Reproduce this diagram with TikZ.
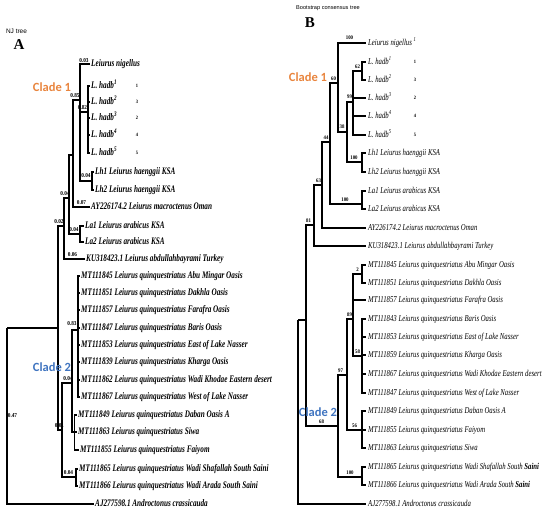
\documentclass[tikz,border=0pt]{standalone}
\usepackage{fontspec}
\setmainfont{Liberation Serif}
\newfontfamily\Afont[FakeStretch=0.72]{Liberation Serif}
\newfontfamily\Bfont[FakeStretch=0.75]{Liberation Serif}
\newfontfamily\Lfont[FakeStretch=0.88]{Liberation Serif}
\newfontfamily\Sfont{Liberation Sans}
\newfontfamily\Cfont{Carlito}
\definecolor{cladeorange}{HTML}{E9853E}
\definecolor{cladeblue}{HTML}{3F74C0}
\tikzset{
  br/.style={line width=1.45pt},
  leafA/.style={anchor=west, inner sep=1pt, font=\Afont\bfseries\itshape\fontsize{10}{10}\selectfont, text height=7pt, text depth=2pt},
  leafB/.style={anchor=west, inner sep=2pt, font=\Bfont\itshape\fontsize{9}{9}\selectfont, text height=6.3pt, text depth=1.8pt},
  blA/.style={font=\Lfont\bfseries\fontsize{6}{6}\selectfont, inner sep=0pt},
  blB/.style={font=\Lfont\bfseries\fontsize{5.5}{5.5}\selectfont, inner sep=0pt},
  numlab/.style={font=\Lfont\bfseries\fontsize{5}{5}\selectfont, inner sep=0pt},
  cladelab/.style={font=\Cfont\bfseries\fontsize{12.5}{12.5}\selectfont, inner sep=0pt},
  smalltitle/.style={font=\Sfont\fontsize{6.5}{6.5}\selectfont, inner sep=0pt},
  bigtitle/.style={font=\bfseries\fontsize{15}{15}\selectfont, inner sep=0pt}
}
\begin{document}
\begin{tikzpicture}[x=1pt,y=-1pt]
\fill[white] (0,0) rectangle (550,515);
\useasboundingbox (0,0) rectangle (550,515);

% ---------------- Titles ----------------
\node[smalltitle] (tA) at (16.5,31.5) {NJ tree};
\node[bigtitle] (tAA) at (19,45) {A};
\node[smalltitle, font=\Sfont\fontsize{5.6}{5.6}\selectfont] (tB) at (328,8.5) {Bootstrap consensus tree};
\node[bigtitle] (tBB) at (310,23) {B};

% ---------------- Tree A leaves ----------------
\node[leafA] (a1) at (90,64) {Leiurus nigellus};
\node[leafA] (a2) at (90,86) {L. hadb\textsuperscript{1}};
\node[leafA] (a3) at (90,102) {L. hadb\textsuperscript{2}};
\node[leafA] (a4) at (90,118) {L. hadb\textsuperscript{3}};
\node[leafA] (a5) at (90,135) {L. hadb\textsuperscript{4}};
\node[leafA] (a6) at (90,153) {L. hadb\textsuperscript{5}};
\node[leafA] (a7) at (94,172) {Lh1 Leiurus haenggii KSA};
\node[leafA] (a8) at (94,190) {Lh2 Leiurus haenggii KSA};
\node[leafA] (a9) at (90,207) {AY226174.2 Leiurus macroctenus Oman};
\node[leafA] (a10) at (84,226) {La1 Leiurus arabicus KSA};
\node[leafA] (a11) at (84,242) {La2 Leiurus arabicus KSA};
\node[leafA] (a12) at (85,259) {KU318423.1 Leiurus abdullahbayrami Turkey};
\node[leafA] (a13) at (80,276) {MT111845 Leiurus quinquestriatus Abu Mingar Oasis};
\node[leafA] (a14) at (80,293) {MT111851 Leiurus quinquestriatus Dakhla Oasis};
\node[leafA] (a15) at (80,310) {MT111857 Leiurus quinquestriatus Farafra Oasis};
\node[leafA] (a16) at (80,328) {MT111847 Leiurus quinquestriatus Baris Oasis};
\node[leafA] (a17) at (80,345) {MT111853 Leiurus quinquestriatus East of Lake Nasser};
\node[leafA] (a18) at (80,362) {MT111839 Leiurus quinquestriatus Kharga Oasis};
\node[leafA] (a19) at (80,380) {MT111862 Leiurus quinquestriatus Wadi Khodae Eastern desert};
\node[leafA] (a20) at (80,397) {MT111867 Leiurus quinquestriatus West of Lake Nasser};
\node[leafA] (a21) at (77,415) {MT111849 Leiurus quinquestriatus Daban Oasis A};
\node[leafA] (a22) at (77,432) {MT111863 Leiurus quinquestriatus Siwa};
\node[leafA] (a23) at (79,450) {MT111855 Leiurus quinquestriatus Faiyom};
\node[leafA] (a24) at (78,469) {MT111865 Leiurus quinquestriatus Wadi Shafallah South Saini};
\node[leafA] (a25) at (78,486) {MT111866 Leiurus quinquestriatus Wadi Arada South Saini};
\node[leafA] (a26) at (94,504) {AJ277598.1 Androctonus crassicauda};

\node[numlab] (an1) at (137,86) {1};
\node[numlab] (an2) at (137,102) {3};
\node[numlab] (an3) at (137,118) {2};
\node[numlab] (an4) at (137,135) {4};
\node[numlab] (an5) at (137,153) {5};

% ---------------- Tree A internal nodes ----------------
\coordinate (aroot) at (7,328);
\coordinate (aI) at (58,328);
\coordinate (aU) at (64,226);
\coordinate (aV) at (69,198);
\coordinate (aW) at (73,155);
\coordinate (aC1a) at (80,100);
\coordinate (aH) at (88,112);
\coordinate (aLh) at (92,181);
\coordinate (aLa) at (80,234);
\coordinate (aC2) at (62,430);
\coordinate (aC2a) at (72,383);
\coordinate (aG) at (78,330);
\coordinate (aS) at (74.5,432);
\coordinate (aC2b) at (76,477);

\draw[br] (aroot) |- (aI);
\draw[br] (aroot) |- (a26.west);
\draw[br] (aI) |- (aU);
\draw[br] (aI) |- (aC2);
\draw[br] (aU) |- (aV);
\draw[br] (aU) |- (a12.west);
\draw[br] (aV) |- (aW);
\draw[br] (aV) |- (aLa);
\draw[br] (aW) |- (aC1a);
\draw[br] (aW) |- (a9.west);
\draw[br] (aC1a) |- (a1.west);
\draw[br] (aC1a) |- (aH);
\draw[br] (aC1a) |- (aLh);
\foreach \i in {2,...,6} {\draw[br] (aH) |- (a\i.west);}
\draw[br] (aLh) |- (a7.west);
\draw[br] (aLh) |- (a8.west);
\draw[br] (aLa) |- (a10.west);
\draw[br] (aLa) |- (a11.west);
\draw[br] (aC2) |- (aC2a);
\draw[br] (aC2) |- (aC2b);
\draw[br] (aC2a) |- (aG);
\draw[br] (aC2a) |- (aS);
\foreach \i in {13,...,20} {\draw[br] (aG) |- (a\i.west);}
\foreach \i in {21,22,23} {\draw[br] (aS) |- (a\i.west);}
\draw[br] (aC2b) |- (a24.west);
\draw[br] (aC2b) |- (a25.west);

% branch-length labels A
\node[blA] (la1) at (84,60.5) {0.03};
\node[blA] (la2) at (75,95.5) {0.85};
\node[blA] (la3) at (82.5,108) {0.82};
\node[blA] (la4) at (86,176) {0.04};
\node[blA] (la5) at (65,193.5) {0.04};
\node[blA] (la6) at (81.5,203) {0.07};
\node[blA] (la7) at (74,229.5) {0.04};
\node[blA] (la8) at (59,221.5) {0.02};
\node[blA] (la9) at (72.5,254.5) {0.06};
\node[blA] (la10) at (12.5,416) {0.47};
\node[blA] (la11) at (72,324) {0.83};
\node[blA] (la12) at (68,378.5) {0.04};
\node[blA] (la13) at (59.5,425.5) {0.01};
\node[blA] (la14) at (68.5,472.5) {0.04};

\node[cladelab, text=cladeorange] (ca1) at (52,87) {Clade 1};
\node[cladelab, text=cladeblue] (ca2) at (52,367) {Clade 2};

% ---------------- Tree B leaves ----------------
\node[leafB] (b1) at (366,43) {Leiurus nigellus \textsuperscript{1}};
\node[leafB] (b2) at (366,62) {L. hadb\textsuperscript{1}};
\node[leafB] (b3) at (366,80) {L. hadb\textsuperscript{2}};
\node[leafB] (b4) at (366,98) {L. hadb\textsuperscript{3}};
\node[leafB] (b5) at (366,116) {L. hadb\textsuperscript{4}};
\node[leafB] (b6) at (366,135) {L. hadb\textsuperscript{5}};
\node[leafB] (b7) at (366,153) {Lh1 Leiurus haenggii KSA};
\node[leafB] (b8) at (366,172) {Lh2 Leiurus haenggii KSA};
\node[leafB] (b9) at (366,191) {La1 Leiurus arabicus KSA};
\node[leafB] (b10) at (366,209) {La2 Leiurus arabicus KSA};
\node[leafB] (b11) at (366,228) {AY226174.2 Leiurus macroctenus Oman};
\node[leafB] (b12) at (366,246) {KU318423.1 Leiurus abdullahbayrami Turkey};
\node[leafB] (b13) at (366,265) {MT111845 Leiurus quinquestriatus Abu Mingar Oasis};
\node[leafB] (b14) at (366,283) {MT111851 Leiurus quinquestriatus Dakhla Oasis};
\node[leafB] (b15) at (366,300) {MT111857 Leiurus quinquestriatus Farafra Oasis};
\node[leafB] (b16) at (366,319) {MT111843 Leiurus quinquestriatus Baris Oasis};
\node[leafB] (b17) at (366,337) {MT111853 Leiurus quinquestriatus East of Lake Nasser};
\node[leafB] (b18) at (366,355) {MT111859 Leiurus quinquestriatus Kharga Oasis};
\node[leafB] (b19) at (366,374) {MT111867 Leiurus quinquestriatus Wadi Khodae Eastern desert};
\node[leafB] (b20) at (366,393) {MT111847 Leiurus quinquestriatus West of Lake Nasser};
\node[leafB] (b21) at (366,411) {MT111849 Leiurus quinquestriatus Daban Oasis A};
\node[leafB] (b22) at (366,430) {MT111855 Leiurus quinquestriatus Faiyom};
\node[leafB] (b23) at (366,448) {MT111863 Leiurus quinquestriatus Siwa};
\node[leafB] (b24) at (366,467) {MT111865 Leiurus quinquestriatus Wadi Shafallah South \textbf{Saini}};
\node[leafB] (b25) at (366,485) {MT111866 Leiurus quinquestriatus Wadi Arada South \textbf{Saini}};
\node[leafB] (b26) at (366,504) {AJ277598.1 Androctonus crassicauda};

\node[numlab] (bn1) at (415,62) {1};
\node[numlab] (bn2l) at (415,80) {3};
\node[numlab] (bn3l) at (415,98) {2};
\node[numlab] (bn4l) at (415,116) {4};
\node[numlab] (bn5l) at (415,135) {5};

% ---------------- Tree B internal nodes ----------------
\coordinate (broot) at (298,320);
\coordinate (bn81) at (306,320);
\coordinate (bn63) at (314,225);
\coordinate (bn44) at (322,185);
\coordinate (bn60) at (330,142);
\coordinate (bn100) at (338,83);
\coordinate (bn38) at (347,132);
\coordinate (bh99) at (353,102);
\coordinate (bn62) at (362,71);
\coordinate (blh) at (362,162);
\coordinate (bla) at (362,204);
\coordinate (bn68) at (338,426);
\coordinate (bn97) at (347,375);
\coordinate (bn89) at (353,319);
\coordinate (bn2) at (362,274);
\coordinate (bn58) at (362,356);
\coordinate (bn56) at (362,430);
\coordinate (bn100b) at (362,477);

\draw[br] (broot) |- (bn81);
\draw[br] (broot) |- (b26.west);
\draw[br] (bn81) |- (bn63);
\draw[br] (bn81) |- (bn68);
\draw[br] (bn63) |- (bn44);
\draw[br] (bn63) |- (b12.west);
\draw[br] (bn44) |- (bn60);
\draw[br] (bn44) |- (b11.west);
\draw[br] (bn60) |- (bn100);
\draw[br] (bn60) |- (bla);
\draw[br] (bn100) |- (b1.west);
\draw[br] (bn100) |- (bn38);
\draw[br] (bn38) |- (bh99);
\draw[br] (bn38) |- (blh);
\draw[br] (bh99) |- (bn62);
\foreach \i in {4,5,6} {\draw[br] (bh99) |- (b\i.west);}
\draw[br] (bn62) |- (b2.west);
\draw[br] (bn62) |- (b3.west);
\draw[br] (blh) |- (b7.west);
\draw[br] (blh) |- (b8.west);
\draw[br] (bla) |- (b9.west);
\draw[br] (bla) |- (b10.west);
\draw[br] (bn68) |- (bn97);
\draw[br] (bn68) |- (bn100b);
\draw[br] (bn97) |- (bn89);
\draw[br] (bn97) |- (bn56);
\draw[br] (bn89) |- (bn2);
\draw[br] (bn89) |- (b15.west);
\draw[br] (bn89) |- (bn58);
\draw[br] (bn2) |- (b13.west);
\draw[br] (bn2) |- (b14.west);
\foreach \i in {16,...,20} {\draw[br] (bn58) |- (b\i.west);}
\foreach \i in {21,22,23} {\draw[br] (bn56) |- (b\i.west);}
\draw[br] (bn100b) |- (b24.west);
\draw[br] (bn100b) |- (b25.west);

% bootstrap labels B
\node[blB] (lb1) at (349.5,37.5) {100};
\node[blB] (lb2) at (357.5,67) {62};
\node[blB] (lb3) at (349.5,97) {99};
\node[blB] (lb4) at (342,127) {38};
\node[blB] (lb5) at (333.5,78.5) {60};
\node[blB] (lb6) at (326,137.5) {44};
\node[blB] (lb7) at (354,157.5) {100};
\node[blB] (lb8) at (345,199.5) {100};
\node[blB] (lb9) at (318.5,180.5) {63};
\node[blB] (lb10) at (308.5,220.5) {81};
\node[blB] (lb11) at (357.5,269.5) {2};
\node[blB] (lb12) at (349.5,314.5) {89};
\node[blB] (lb13) at (357.5,351.5) {58};
\node[blB] (lb14) at (340.5,370.5) {97};
\node[blB] (lb15) at (321.5,422) {68};
\node[blB] (lb16) at (354.5,425.5) {56};
\node[blB] (lb17) at (350,472.5) {100};

\node[cladelab, text=cladeorange] (cb1) at (308,77) {Clade 1};
\node[cladelab, text=cladeblue] (cb2) at (318,412) {Clade 2};
\end{tikzpicture}
\end{document}
